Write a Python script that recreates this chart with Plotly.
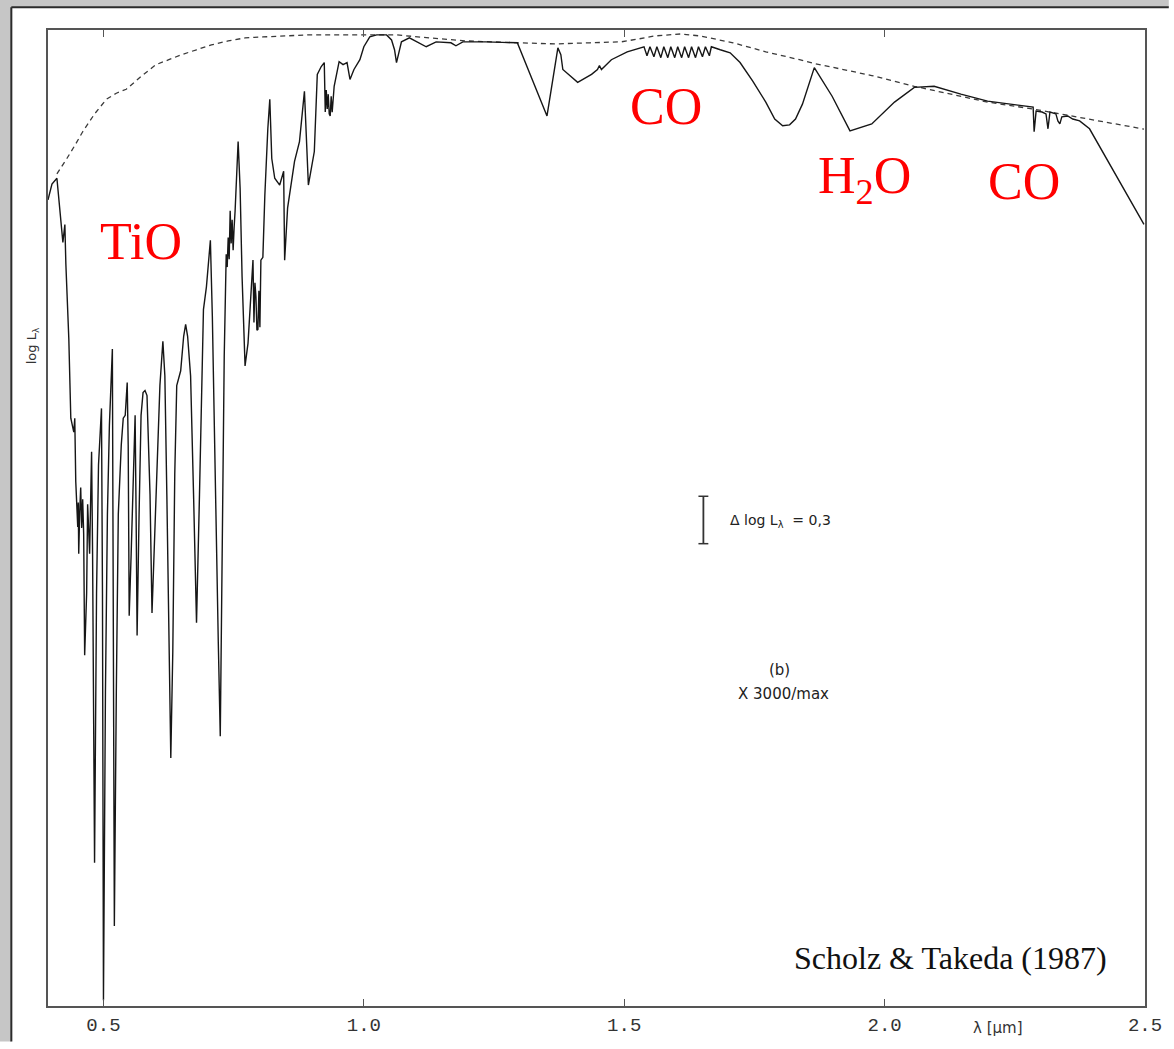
import plotly.graph_objects as go

# Model spectrum of an M giant: log L_lambda (dex, relative to the peak) vs wavelength (um)
spec_lambda = [
    0.3935, 0.4011, 0.4106, 0.4163, 0.4221, 0.4259, 0.4278, 0.4335, 0.4373, 0.4430,
    0.4449, 0.4468, 0.4487, 0.4506, 0.4516, 0.4525, 0.4544, 0.4563, 0.4582, 0.4601,
    0.4620, 0.4639, 0.4677, 0.4696,
    0.4734, 0.4772, 0.4791, 0.4829, 0.4867, 0.4905, 0.4962, 0.4981, 0.5000, 0.5038,
    0.5076, 0.5114, 0.5171, 0.5190, 0.5209, 0.5247, 0.5285, 0.5342, 0.5380, 0.5418,
    0.5456, 0.5475, 0.5494, 0.5532, 0.5570, 0.5608, 0.5627, 0.5646, 0.5684, 0.5722,
    0.5760, 0.5798, 0.5836, 0.5855, 0.5894, 0.5932, 0.5970, 0.6027, 0.6084, 0.6141,
    0.6179, 0.6217, 0.6255, 0.6293, 0.6331, 0.6369, 0.6407, 0.6483, 0.6540, 0.6578,
    0.6616, 0.6673, 0.6730, 0.6787, 0.6844, 0.6920, 0.6977, 0.7053, 0.7091, 0.7148,
    0.7205, 0.7243, 0.7281, 0.7319, 0.7357, 0.7376, 0.7395, 0.7414, 0.7433, 0.7452,
    0.7471, 0.7490, 0.7509, 0.7528, 0.7586,
    0.7624, 0.7662, 0.7719, 0.7776, 0.7833, 0.7871, 0.7890, 0.7909, 0.7928, 0.7947,
    0.7966, 0.7985, 0.8004, 0.8023, 0.8061,
    0.8099, 0.8156, 0.8194, 0.8232, 0.8289, 0.8384, 0.8460, 0.8479, 0.8536, 0.8669,
    0.8764, 0.8859, 0.8897, 0.8935, 0.8992, 0.9049, 0.9106, 0.9182, 0.9240, 0.9259,
    0.9278, 0.9297, 0.9316, 0.9335, 0.9354, 0.9373, 0.9392, 0.9430, 0.9525, 0.9601,
    0.9677, 0.9734, 0.9810, 0.9924, 1.0000,
    1.0114, 1.0247, 1.0437, 1.0532, 1.0589, 1.0627, 1.0684, 1.0722, 1.0875, 1.1008,
    1.1198, 1.1388, 1.1673, 1.1768, 1.1901, 1.2338, 1.2947, 1.3517, 1.3726, 1.3783,
    1.3821, 1.4106, 1.4372, 1.4486, 1.4524, 1.4562, 1.4753, 1.5057, 1.5323,
    1.5380, 1.5437, 1.5494, 1.5570, 1.5627, 1.5703, 1.5760, 1.5837, 1.5894, 1.5970,
    1.6027, 1.6103, 1.6160, 1.6236, 1.6293, 1.6369, 1.6426, 1.6502, 1.6559, 1.6635,
    1.6673, 1.6844, 1.7034, 1.7224, 1.7471, 1.7718, 1.7890, 1.8042, 1.8175, 1.8289,
    1.8422, 1.8650, 1.8992, 1.9335, 1.9753, 2.0190, 2.0570, 2.0951, 2.1464, 2.1977,
    2.2852, 2.2871, 2.2909, 2.3023, 2.3099, 2.3137, 2.3175, 2.3289, 2.3327, 2.3365,
    2.3403, 2.3517, 2.3612, 2.3745, 2.3935, 2.4980,
]
spec_logL = [
    -1.075, -0.975, -0.938, -1.144, -1.344, -1.231, -1.481, -1.956, -2.456, -2.544,
    -2.456, -2.856, -3.080, -3.144, -2.990, -3.313, -3.050, -2.894, -3.150, -2.969,
    -3.188, -3.956, -3.563, -3.000,
    -3.313, -2.669, -3.313, -5.269, -3.563, -2.750, -2.394, -3.563, -6.138, -4.188,
    -3.063, -2.500, -2.019, -3.563, -5.669, -4.188, -3.063, -2.625, -2.456, -2.438,
    -2.231, -2.625, -3.706, -3.313, -2.813, -2.438, -3.063, -3.831, -3.063, -2.438,
    -2.294, -2.281, -2.313, -2.500, -2.938, -3.688, -3.313, -2.813, -2.250, -1.969,
    -2.188, -2.938, -3.813, -4.606, -3.938, -2.813, -2.250, -2.156, -1.938, -1.863,
    -1.938, -2.188, -2.938, -3.750, -2.938, -1.769, -1.625, -1.331, -1.813, -2.938,
    -3.875, -4.469, -3.313, -2.063, -1.419, -1.500, -1.313, -1.450, -1.144, -1.350,
    -1.200, -1.394, -1.250, -1.144, -0.706,
    -1.000, -1.563, -2.125, -1.981, -1.688, -1.456, -1.850, -1.600, -1.688, -1.900,
    -1.894, -1.650, -1.880, -1.456, -1.438,
    -1.044, -0.625, -0.438, -0.813, -0.938, -0.981, -0.894, -1.456, -1.125, -0.831,
    -0.706, -0.388, -0.688, -0.981, -0.875, -0.769, -0.281, -0.231, -0.206, -0.519,
    -0.380, -0.500, -0.406, -0.530, -0.544, -0.420, -0.520, -0.356, -0.200, -0.219,
    -0.206, -0.313, -0.250, -0.188, -0.106,
    -0.044, -0.031, -0.031, -0.063, -0.125, -0.206, -0.125, -0.075, -0.050, -0.075,
    -0.106, -0.075, -0.081, -0.100, -0.075, -0.075, -0.081, -0.544, -0.113, -0.156,
    -0.250, -0.331, -0.281, -0.250, -0.225, -0.250, -0.188, -0.138, -0.113,
    -0.106, -0.163, -0.106, -0.169, -0.106, -0.175, -0.106, -0.175, -0.106, -0.175,
    -0.106, -0.175, -0.106, -0.175, -0.106, -0.175, -0.106, -0.169, -0.106, -0.163,
    -0.106, -0.125, -0.144, -0.206, -0.325, -0.456, -0.563, -0.606, -0.600, -0.563,
    -0.469, -0.238, -0.419, -0.638, -0.594, -0.456, -0.363, -0.356, -0.406, -0.450,
    -0.488, -0.644, -0.513, -0.519, -0.531, -0.625, -0.519, -0.531, -0.575, -0.594,
    -0.550, -0.544, -0.563, -0.575, -0.625, -1.230,
]

# Continuum (dashed) of the same model
cont_lambda = [
    0.4106, 0.4202, 0.4297, 0.4449, 0.4601, 0.4829, 0.5057, 0.5247, 0.5437, 0.5722,
    0.6008, 0.6255, 0.6502, 0.6787, 0.7072, 0.7395, 0.7719, 0.8061, 0.8403, 0.8916,
    0.9354, 1.0000, 1.0627, 1.1255, 1.1958, 1.2966, 1.3669, 1.4334, 1.4943, 1.5285,
    1.5570, 1.6084, 1.6464, 1.7091, 1.7718, 1.8365, 1.8669, 1.9753, 2.0570, 2.1274,
    2.1977, 2.2852, 2.3878, 2.4980,
]
cont_logL = [
    -0.910, -0.863, -0.813, -0.731, -0.644, -0.531, -0.438, -0.400, -0.375, -0.294,
    -0.219, -0.188, -0.156, -0.125, -0.094, -0.069, -0.050, -0.044, -0.038, -0.031,
    -0.031, -0.031, -0.031, -0.050, -0.069, -0.081, -0.088, -0.081, -0.075, -0.056,
    -0.038, -0.025, -0.038, -0.081, -0.138, -0.188, -0.213, -0.288, -0.356, -0.406,
    -0.456, -0.500, -0.563, -0.627,
]

x_ticks = [0.5, 1.0, 1.5, 2.0, 2.5]
x_tick_text = ["0.5", "1.0", "1.5", "2.0", "2.5"]
x_range = [0.3935, 2.5]
y_range = [-6.175, 0.0]

# Molecular band labels: (text, wavelength, log L)
band_labels = [
    ("TiO", 0.5713, -1.338),
    ("CO", 1.5808, -0.484),
    ("H<sub>2</sub>O", 1.9610, -0.944),
    ("CO", 2.2680, -0.959),
]

# Scale bar for the log L axis
scale_bar_lambda = 1.652
scale_bar_top = -2.95
scale_bar_delta = 0.3

W, H = 1174, 1049
ML, MR, MT, MB = 48, 19, 30, 31
PW, PH = W - ML - MR, H - MT - MB


def px_x(px):
    """Horizontal pixel position -> paper coordinate."""
    return (px - ML) / PW


def px_y(py):
    """Vertical pixel position (from top) -> paper coordinate."""
    return (H - MB - py) / PH


fig = go.Figure()

fig.add_trace(go.Scatter(
    x=cont_lambda, y=cont_logL, mode="lines",
    line=dict(color="#3a3a3a", width=1.3, dash="5px,4px"),
    hoverinfo="skip",
))
fig.add_trace(go.Scatter(
    x=spec_lambda, y=spec_logL, mode="lines",
    line=dict(color="#161616", width=1.4),
    hoverinfo="skip",
))

# Grey surround along the left and top edges of the white page
grey = "#c6c6c6"
fig.add_shape(type="rect", xref="paper", yref="paper",
              x0=px_x(-5), x1=px_x(11), y0=px_y(H + 5), y1=px_y(-5),
              fillcolor=grey, line=dict(width=0), layer="below")
fig.add_shape(type="rect", xref="paper", yref="paper",
              x0=px_x(-5), x1=px_x(W + 5), y0=px_y(7), y1=px_y(-5),
              fillcolor=grey, line=dict(width=0), layer="below")
fig.add_shape(type="line", xref="paper", yref="paper",
              x0=px_x(11), x1=px_x(11), y0=px_y(H + 5), y1=px_y(7),
              line=dict(color="#2b2b2b", width=2), layer="below")
fig.add_shape(type="line", xref="paper", yref="paper",
              x0=px_x(11), x1=px_x(W + 5), y0=px_y(7), y1=px_y(7),
              line=dict(color="#2b2b2b", width=2), layer="below")

# Scale bar with end caps
cap = 0.0095
y_bot = scale_bar_top - scale_bar_delta
fig.add_shape(type="line", x0=scale_bar_lambda, x1=scale_bar_lambda,
              y0=scale_bar_top, y1=y_bot, line=dict(color="#333", width=1.8))
for yy in (scale_bar_top, y_bot):
    fig.add_shape(type="line", x0=scale_bar_lambda - cap, x1=scale_bar_lambda + cap,
                  y0=yy, y1=yy, line=dict(color="#333", width=1.5))

small_font = dict(family="DejaVu Sans", size=14, color="#222")
fig.add_annotation(
    x=1.6996, y=-3.106, xanchor="left", yanchor="middle", showarrow=False,
    text="\u0394 log L<sub>\u03bb</sub>  = 0,3", font=small_font,
)
fig.add_annotation(
    x=1.7985, y=-4.05, xanchor="center", yanchor="middle", showarrow=False,
    text="(b)", font=dict(small_font, size=15),
)
fig.add_annotation(
    x=1.8061, y=-4.20, xanchor="center", yanchor="middle", showarrow=False,
    text="X 3000/max", font=dict(small_font, size=15),
)

for text, lx, ly in band_labels:
    fig.add_annotation(
        x=lx, y=ly, xanchor="center", yanchor="middle", showarrow=False, text=text,
        font=dict(family="Liberation Serif", size=52, color="#ff0000"),
    )

fig.add_annotation(
    x=2.1264, y=-5.869, xanchor="center", yanchor="middle", showarrow=False,
    text="Scholz &amp; Takeda (1987)",
    font=dict(family="Liberation Serif", size=32, color="#111"),
)

# Axis titles
fig.add_annotation(
    x=2.2186, xref="x", y=px_y(1040), yref="paper",
    xanchor="center", yanchor="middle", showarrow=False,
    text="\u03bb [\u03bcm]", font=dict(family="DejaVu Sans", size=15, color="#333"),
)
fig.add_annotation(
    x=px_x(32), xref="paper", y=px_y(350), yref="paper",
    xanchor="center", yanchor="middle", showarrow=False, textangle=-90,
    text="log L<sub>\u03bb</sub>", font=dict(family="DejaVu Sans", size=13, color="#333"),
)

fig.update_layout(
    width=W, height=H, autosize=False,
    margin=dict(l=ML, r=MR, t=MT, b=MB, pad=0),
    paper_bgcolor="white", plot_bgcolor="white",
    showlegend=False,
    xaxis=dict(
        range=x_range, tickvals=x_ticks, ticktext=x_tick_text,
        ticks="inside", ticklen=7, tickwidth=1.3, tickcolor="#555",
        showline=True, linecolor="#555", linewidth=1.5, mirror="ticks",
        showgrid=False, zeroline=False,
        tickfont=dict(family="Liberation Mono", size=19, color="#333"),
    ),
    yaxis=dict(
        range=y_range, showticklabels=False, ticks="",
        showline=True, linecolor="#555", linewidth=1.5, mirror=True,
        showgrid=False, zeroline=False,
    ),
)

fig.write_html("out.html")
